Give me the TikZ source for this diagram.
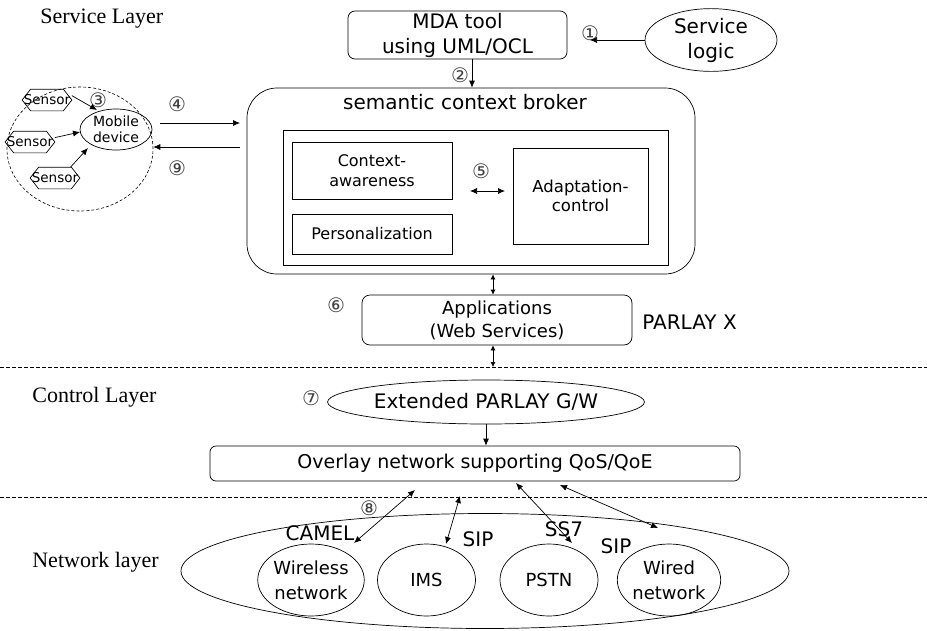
\documentclass[tikz,border=0pt]{standalone}
\usepackage{fontspec}
\setmainfont{Liberation Serif}
\newfontfamily\gul{DejaVu Sans}
\usetikzlibrary{shapes.geometric,arrows.meta}
\newcommand\fsz[2]{\fontsize{#1}{#2}\selectfont}
\begin{document}
\begin{tikzpicture}[x=1pt,y=-1pt,line width=0.7pt,
  box/.style={draw,rounded corners=7pt,align=center,inner sep=0pt},
  sq/.style={draw,align=center,inner sep=0pt},
  ell/.style={draw,ellipse,inner sep=0pt,align=center},
  num/.style={font=\gul\fsz{20}{20},text=black!75,inner sep=0pt},
  lbl/.style={font=\gul\fsz{20}{24},inner sep=0pt},
  layer/.style={font=\fsz{22}{26},anchor=base west,inner sep=0pt},
  arr/.style={-{Latex[length=7pt,width=6pt]}},
  darr/.style={{Latex[length=7pt,width=6pt]}-{Latex[length=7pt,width=6pt]}},
  sdarr/.style={{Latex[length=5pt,width=5pt]}-{Latex[length=5pt,width=5pt]}},
  dline/.style={dash pattern=on 3.5pt off 2.5pt,line width=0.6pt},
  sensorbox/.style={minimum width=49pt,minimum height=21pt,inner sep=0pt,font=\gul\fsz{13.5}{14}}
]
\useasboundingbox (0,0) rectangle (927,630);

% ---------- Service layer ----------
\node[layer] (sl) at (40,23) {Service Layer};

\node[box,minimum width=219pt,minimum height=48pt,font=\gul\fsz{20}{25}] (mda) at (457.5,35) {MDA tool\\using UML/OCL};
\node[ell,minimum width=132pt,minimum height=56pt,font=\gul\fsz{20}{25}] (slogic) at (711,40) {Service\\logic};
\node[num] (n1) at (590,33) {①};
\coordinate (c1) at (590,40);
\draw[arr] (slogic.west) -- (c1);

\node[draw,rounded corners=30pt,minimum width=448pt,minimum height=186pt,inner sep=0pt] (broker) at (471,181) {};
\node[lbl] (btitle) at (465,102) {semantic context broker};
\node[num] (n2) at (460,75) {②};
\coordinate (c2) at (472,0);
\draw[arr] (mda.south -| c2) -- (broker.north -| c2);

\node[sq,minimum width=385pt,minimum height=135pt] (inner) at (475.5,197.5) {};
\node[sq,minimum width=160pt,minimum height=57pt,font=\gul\fsz{16}{20}] (ctx) at (372,170.5) {Context-\\awareness};
\node[sq,minimum width=160pt,minimum height=40pt,font=\gul\fsz{16}{20}] (pers) at (372,234) {Personalization};
\node[sq,minimum width=135pt,minimum height=96pt,font=\gul\fsz{16.5}{19}] (adapt) at (580.5,196) {Adaptation-\\control};
\coordinate (c5a) at (470,191);
\coordinate (c5b) at (505,191);
\draw[darr] (c5a) -- (c5b);
\node[num] (n5) at (481,171) {⑤};

% ---------- mobile cluster ----------
\node[draw,dash pattern=on 3pt off 2pt,line width=0.6pt,ellipse,minimum width=146pt,minimum height=124pt,inner sep=0pt] (cluster) at (80,149) {};
\node[ell,minimum width=72pt,minimum height=41pt,font=\gul\fsz{14}{16}] (mob) at (116,129.5) {Mobile\\device};
\node[num] (n3) at (98,100) {③};

\foreach \s/\x/\y in {s1/47/100,s2/30/142,s3/55/178}{
  \node[sensorbox] (\s) at (\x,\y) {};
  \draw ([xshift=8.5pt]\s.north west) -- ([xshift=-8.5pt]\s.north east) -- (\s.east)
        -- ([xshift=-8.5pt]\s.south east) -- ([xshift=8.5pt]\s.south west) -- (\s.west) -- cycle;
  \node[font=\gul\fsz{13.5}{14},inner sep=0pt] at (\s.center) {Sensor};
}
\coordinate (h1) at (97,110);
\coordinate (h2) at (80,132);
\coordinate (h3) at (88,148);
\draw[arr] (s1.10) -- (h1);
\draw[arr] (s2.10) -- (h2);
\draw[arr] (s3.35) -- (h3);

\node[num] (n4) at (177,104) {④};
\coordinate (c4a) at (160,123);
\coordinate (c4b) at (240,123);
\draw[arr] (c4a) -- (c4b);
\node[num] (n9) at (177,168) {⑨};
\coordinate (c9a) at (240,147);
\draw[arr] (c9a) -- (c9a -| cluster.east);

% ---------- applications ----------
\node[box,rounded corners=8pt,minimum width=270pt,minimum height=50pt,font=\gul\fsz{18}{23}] (apps) at (497,320) {Applications\\(Web Services)};
\coordinate (c6) at (493,0);
\draw[sdarr] (broker.south -| c6) -- (apps.north -| c6);
\node[num] (n6) at (336,305) {⑥};
\node[lbl,anchor=west] (px) at (642,322) {PARLAY X};

\coordinate (d1l) at (0,367);
\coordinate (d1r) at (927,367);
\draw[dline] (d1l) -- (d1r);
\draw[sdarr] (apps.south -| c6) -- (d1l -| c6);

% ---------- control layer ----------
\node[layer] (cl) at (32,402) {Control Layer};
\node[num] (n7) at (311,398) {⑦};
\node[ell,minimum width=305pt,minimum height=44pt,font=\gul\fsz{20}{24}] (gw) at (486,402) {Extended PARLAY G/W};
\node[box,rounded corners=6pt,minimum width=530pt,minimum height=35pt,font=\gul\fsz{19}{23}] (ovl) at (475,463.5) {Overlay network supporting QoS/QoE};
\draw[arr] (gw.south) -- (ovl.north -| gw.south);

\coordinate (d2l) at (0,497);
\coordinate (d2r) at (927,497);
\draw[dline] (d2l) -- (d2r);

% ---------- network layer ----------
\node[layer] (nl) at (32,567) {Network layer};
\node[draw,ellipse,minimum width=608pt,minimum height=115pt,inner sep=0pt] (net) at (485,571) {};
\node[ell,minimum width=98pt,minimum height=72pt,font=\gul\fsz{18}{25}] (wl) at (311,580) {Wireless\\network};
\node[ell,minimum width=98pt,minimum height=72pt,font=\gul\fsz{18}{25}] (ims) at (426.5,580) {IMS};
\node[ell,minimum width=98pt,minimum height=72pt,font=\gul\fsz{18}{25}] (pstn) at (549,580) {PSTN};
\node[ell,minimum width=98pt,minimum height=72pt,font=\gul\fsz{18}{25}] (wd) at (669,580) {Wired\\network};

\node[lbl] (camel) at (320,533) {CAMEL};
\node[lbl] (sip1) at (478,539) {SIP};
\node[lbl] (ss7) at (564,529) {SS7};
\node[lbl] (sip2) at (616,546) {SIP};
\node[num] (n8) at (369,508) {⑧};

\coordinate (a1) at (415,490); \coordinate (a2) at (354,543);
\coordinate (b1) at (460,496); \coordinate (b2) at (446,544);
\coordinate (e1) at (516,483); \coordinate (e2) at (572,543);
\coordinate (f1) at (560,485); \coordinate (f2) at (658,528);
\draw[darr] (a1) -- (a2);
\draw[darr] (b1) -- (b2);
\draw[darr] (e1) -- (e2);
\draw[darr] (f1) -- (f2);
\end{tikzpicture}
\end{document}
